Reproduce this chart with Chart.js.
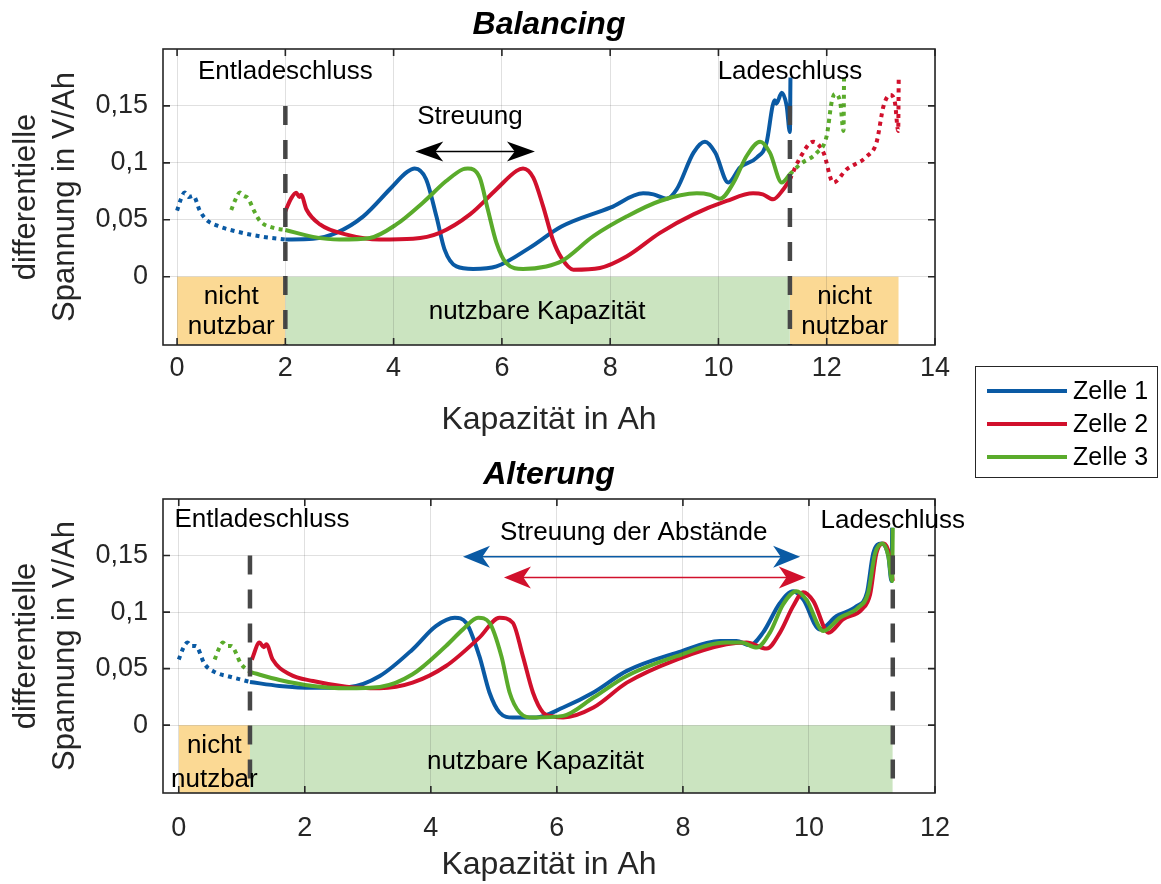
<!DOCTYPE html>
<html lang="de">
<head>
<meta charset="utf-8">
<title>Differentielle Spannung – Balancing und Alterung</title>
<script src="https://cdn.jsdelivr.net/npm/chart.js@4.4.1/dist/chart.umd.min.js"></script>
<style>
  html, body { margin: 0; padding: 0; background: #fff; }
  #wrap { position: relative; width: 1161px; height: 884px; overflow: hidden; }
  #wrap canvas { position: absolute; left: 0; }
  #chart-bal { top: 0; }
  #chart-alt { top: 440px; }
</style>
</head>
<body>
<div id="wrap">
  <canvas id="chart-bal" width="1161" height="484"></canvas>
  <canvas id="chart-alt" width="1161" height="444"></canvas>
</div>
<script>
"use strict";

// Achsen
const xTicksBal = [0, 2, 4, 6, 8, 10, 12, 14];
const xTicksAlt = [0, 2, 4, 6, 8, 10, 12];
const yTicks = [0, 0.05, 0.1, 0.15];
const Y_MIN = -0.06;
const Y_MAX = 0.2;

const zellenNamen = ["Zelle 1", "Zelle 2", "Zelle 3"];

// --- Balancing: [Kapazität in Ah, dU/dQ in V/Ah] ---
const balZelle1Vor = [[0.0, 0.058], [0.07, 0.068], [0.14, 0.074], [0.22, 0.070], [0.3, 0.071],
  [0.42, 0.058], [0.54, 0.050], [0.73, 0.045], [1.1, 0.0397], [1.59, 0.035], [2.0, 0.0327]];
const balZelle1 = [[2.0, 0.0327], [2.51, 0.0333], [2.94, 0.0385], [3.44, 0.053], [3.93, 0.0768],
  [4.25, 0.092], [4.39, 0.095], [4.6, 0.0856], [4.79, 0.053], [4.94, 0.024], [5.16, 0.009],
  [5.47, 0.0068], [5.9, 0.009], [6.51, 0.0253], [7.1, 0.044], [8.0, 0.0606], [8.61, 0.0732],
  [8.8, 0.0723], [9.04, 0.0685], [9.23, 0.0768], [9.54, 0.109], [9.75, 0.1185], [9.94, 0.109],
  [10.18, 0.0827], [10.4, 0.096], [10.71, 0.1047], [10.89, 0.118], [11.0, 0.150], [11.04, 0.155],
  [11.07, 0.152], [11.17, 0.1615], [11.26, 0.150], [11.32, 0.127], [11.33, 0.175]];

const balZelle2 = [[2.0, 0.0576], [2.11, 0.069], [2.2, 0.0738], [2.26, 0.070], [2.29, 0.072],
  [2.39, 0.059], [2.64, 0.0459], [3.13, 0.037], [3.74, 0.0327], [4.36, 0.0333], [4.85, 0.0385],
  [5.41, 0.0547], [5.9, 0.0768], [6.27, 0.093], [6.39, 0.095], [6.58, 0.087], [6.76, 0.062],
  [6.94, 0.0327], [7.1, 0.0165], [7.32, 0.0062], [7.81, 0.0077], [8.31, 0.018], [8.92, 0.0385],
  [9.54, 0.0547], [10.15, 0.0665], [10.64, 0.0732], [10.82, 0.0723], [11.01, 0.068],
  [11.2, 0.0768], [11.32, 0.0856]];
const balZelle2Nach = [[11.32, 0.0856], [11.51, 0.1047], [11.75, 0.1185], [11.94, 0.109],
  [12.12, 0.0827], [12.37, 0.0944], [12.74, 0.1056], [12.92, 0.118], [13.05, 0.150],
  [13.17, 0.1597], [13.26, 0.153], [13.32, 0.128], [13.33, 0.175]];

const balZelle3Vor = [[1.0, 0.0585], [1.08, 0.068], [1.16, 0.074], [1.23, 0.071], [1.31, 0.069],
  [1.42, 0.058], [1.53, 0.049], [1.77, 0.043], [2.0, 0.041]];
const balZelle3 = [[2.0, 0.041], [2.51, 0.035], [3.0, 0.0327], [3.56, 0.034], [4.05, 0.0459],
  [4.54, 0.065], [4.97, 0.084], [5.28, 0.0944], [5.37, 0.095], [5.59, 0.087], [5.74, 0.059],
  [5.9, 0.0297], [6.08, 0.012], [6.39, 0.0068], [6.82, 0.009], [7.1, 0.0135], [7.69, 0.0356],
  [8.31, 0.053], [8.92, 0.0665], [9.6, 0.0732], [9.84, 0.072], [10.03, 0.0685], [10.28, 0.0827],
  [10.52, 0.106], [10.77, 0.1185], [10.95, 0.109], [11.17, 0.0827], [11.32, 0.09]];
const balZelle3Nach = [[11.32, 0.09], [11.51, 0.0988], [11.82, 0.109], [12.0, 0.1238],
  [12.09, 0.153], [12.15, 0.1606], [12.25, 0.153], [12.31, 0.128], [12.32, 0.175]];

const balGrenzen = [2.0, 11.32];            // Entladeschluss, Ladeschluss
const balNichtNutzbar = [[0, 2.0], [11.32, 13.33]];

// --- Alterung ---
const altZelle1Vor = [[0.0, 0.058], [0.07, 0.068], [0.14, 0.073], [0.2, 0.070], [0.27, 0.070],
  [0.41, 0.054], [0.59, 0.0465], [0.8, 0.043], [1.13, 0.0382]];
const altZelle1 = [[1.13, 0.0382], [1.6, 0.0347], [2.13, 0.033], [2.71, 0.0338], [3.19, 0.0435],
  [3.71, 0.067], [4.08, 0.0876], [4.38, 0.095], [4.56, 0.0906], [4.77, 0.061], [4.93, 0.0289],
  [5.09, 0.0112], [5.3, 0.0068], [5.67, 0.0068], [6.1, 0.0156], [6.58, 0.0289], [7.11, 0.048],
  [7.9, 0.064], [8.59, 0.0744], [8.85, 0.0744], [9.06, 0.0706], [9.27, 0.0818], [9.54, 0.108],
  [9.75, 0.1185], [9.91, 0.111], [10.17, 0.0847], [10.44, 0.0965], [10.76, 0.1053],
  [10.92, 0.117], [11.02, 0.152], [11.15, 0.1606], [11.26, 0.1494], [11.31, 0.1274], [11.32, 0.1745]];

const altZelle2 = [[1.16, 0.058], [1.28, 0.073], [1.35, 0.069], [1.39, 0.0715], [1.49, 0.058],
  [1.76, 0.045], [2.13, 0.039], [2.66, 0.034], [3.19, 0.0327], [3.71, 0.0376], [4.24, 0.0523],
  [4.77, 0.0774], [5.09, 0.095], [5.3, 0.0906], [5.46, 0.061], [5.62, 0.0289], [5.78, 0.0112],
  [5.94, 0.0077], [6.1, 0.0068], [6.58, 0.0156], [7.11, 0.0376], [7.9, 0.058], [8.69, 0.0715],
  [9.01, 0.073], [9.33, 0.0677], [9.54, 0.0818], [9.75, 0.1053], [9.91, 0.1176], [10.07, 0.1097],
  [10.31, 0.0818], [10.54, 0.0936], [10.84, 0.1024], [10.97, 0.1156], [11.07, 0.152],
  [11.19, 0.1606], [11.28, 0.1494], [11.33, 0.1274]];

const altZelle3Vor = [[0.57, 0.058], [0.64, 0.068], [0.7, 0.073], [0.77, 0.070], [0.83, 0.070],
  [0.99, 0.054], [1.13, 0.047]];
const altZelle3 = [[1.13, 0.047], [1.6, 0.04], [2.13, 0.0347], [2.66, 0.0327], [3.19, 0.0338],
  [3.71, 0.045], [4.24, 0.07], [4.51, 0.0847], [4.75, 0.095], [4.93, 0.0906], [5.12, 0.061],
  [5.25, 0.0289], [5.41, 0.0112], [5.62, 0.0068], [6.1, 0.0082], [6.58, 0.0244], [7.11, 0.0435],
  [7.9, 0.061], [8.69, 0.073], [8.93, 0.073], [9.17, 0.0686], [9.38, 0.0818], [9.59, 0.1068],
  [9.8, 0.1185], [9.96, 0.111], [10.23, 0.0832], [10.49, 0.095], [10.78, 0.1039], [10.94, 0.117],
  [11.05, 0.152], [11.17, 0.1606], [11.26, 0.1494], [11.32, 0.1274], [11.33, 0.1745]];

const altGrenzen = [1.13, 11.33];
const altNichtNutzbar = [[0, 1.13]];

// Farben / Stil
const FONT = '"Liberation Sans", Arial, Helvetica, sans-serif';
const AXIS_COLOR = "#262626";
const GRID_COLOR = "rgba(38, 38, 38, 0.14)";
const BLAU = "#0a5aa4";
const ROT = "#d1102c";
const GRUEN = "#5aab2b";
const ORANGE_BAND = "#fbd994";
const GRUEN_BAND = "#cbe4c0";
const MARKER_COLOR = "#474747";

function curve(data, color, dotted, order, label) {
  return {
    label: label || "",
    data,
    order,
    borderColor: color,
    backgroundColor: color,
    borderWidth: 4,
    borderDash: dotted ? [4, 4.5] : [],
    borderCapStyle: "butt",
    borderJoinStyle: "round",
    pointRadius: 0,
    cubicInterpolationMode: "monotone",
    fill: false
  };
}

// Fläche von y = 0 bis zur unteren Achsengrenze
function band(range, color) {
  return {
    data: [[range[0], 0], [range[1], 0]],
    order: 20,
    fill: "start",
    backgroundColor: color,
    borderWidth: 0,
    pointRadius: 0
  };
}

function marker(xv) {
  return {
    data: [[xv, 0.15], [xv, Y_MIN]],
    order: -1,
    borderColor: MARKER_COLOR,
    borderWidth: 4.5,
    borderDash: [19, 15],
    borderCapStyle: "butt",
    pointRadius: 0,
    fill: false
  };
}

function buildScales(xMin, xMax, xTicks, xAxisHeight, tickPad, titlePad) {
  return {
    x: {
      type: "linear",
      min: xMin,
      max: xMax,
      afterBuildTicks: (s) => { s.ticks = xTicks.map((v) => ({ value: v })); },
      afterFit: (s) => { s.height = xAxisHeight; },
      grid: { color: GRID_COLOR, lineWidth: 1, drawTicks: false, z: 1 },
      border: { display: false },
      ticks: {
        color: AXIS_COLOR, padding: tickPad, maxRotation: 0, autoSkip: false,
        font: { family: FONT, size: 27 }
      },
      title: {
        display: true, text: "Kapazität in Ah", color: AXIS_COLOR,
        font: { family: FONT, size: 32, lineHeight: 1.2 },
        padding: { top: 0, bottom: titlePad }
      }
    },
    y: {
      type: "linear",
      min: Y_MIN,
      max: Y_MAX,
      afterBuildTicks: (s) => { s.ticks = yTicks.map((v) => ({ value: v })); },
      afterFit: (s) => { s.width = 163; },
      grid: { color: GRID_COLOR, lineWidth: 1, drawTicks: false, z: 1 },
      border: { display: false },
      ticks: {
        color: AXIS_COLOR, padding: 15,
        font: { family: FONT, size: 27 },
        callback: (v) => String(v).replace(".", ",")
      },
      title: {
        display: true, text: ["differentielle", "Spannung in V/Ah"], color: AXIS_COLOR,
        font: { family: FONT, size: 31, lineHeight: 1.26 },
        padding: { top: 7, bottom: 0 }
      }
    }
  };
}

function drawArrow(ctx, x1, x2, y, color, lw, len, half) {
  ctx.strokeStyle = color;
  ctx.fillStyle = color;
  ctx.lineWidth = lw;
  ctx.setLineDash([]);
  ctx.beginPath();
  ctx.moveTo(x1 + len * 0.6, y);
  ctx.lineTo(x2 - len * 0.6, y);
  ctx.stroke();
  [[x1, 1], [x2, -1]].forEach(([tip, dir]) => {
    ctx.beginPath();
    ctx.moveTo(tip, y);
    ctx.lineTo(tip + dir * len, y - half);
    ctx.lineTo(tip + dir * len * 0.72, y);
    ctx.lineTo(tip + dir * len, y + half);
    ctx.closePath();
    ctx.fill();
  });
}

// Rahmen, Ticks nach innen, Titel, Beschriftungen, Pfeile, Legende
const decorPlugin = {
  id: "decor",
  afterDraw(chart, args, opts) {
    const { ctx, chartArea: a } = chart;
    const sx = chart.scales.x;
    const sy = chart.scales.y;
    ctx.save();

    ctx.strokeStyle = AXIS_COLOR;
    ctx.lineWidth = 1.6;
    ctx.setLineDash([]);
    ctx.strokeRect(a.left, a.top, a.right - a.left, a.bottom - a.top);
    ctx.beginPath();
    sx.ticks.forEach((t) => {
      const px = sx.getPixelForValue(t.value);
      ctx.moveTo(px, a.bottom); ctx.lineTo(px, a.bottom - 7);
      ctx.moveTo(px, a.top); ctx.lineTo(px, a.top + 7);
    });
    sy.ticks.forEach((t) => {
      const py = sy.getPixelForValue(t.value);
      ctx.moveTo(a.left, py); ctx.lineTo(a.left + 7, py);
      ctx.moveTo(a.right, py); ctx.lineTo(a.right - 7, py);
    });
    ctx.stroke();

    ctx.fillStyle = "#000";
    ctx.textAlign = "center";
    ctx.textBaseline = "middle";
    ctx.font = "italic bold 32px " + FONT;
    ctx.fillText(opts.title, (a.left + a.right) / 2, a.top - 24);

    ctx.font = "26px " + FONT;
    (opts.texts || []).forEach((t) => {
      ctx.fillText(t.text, sx.getPixelForValue(t.x), sy.getPixelForValue(t.y));
    });

    (opts.arrows || []).forEach((ar) => {
      drawArrow(ctx, sx.getPixelForValue(ar.x1), sx.getPixelForValue(ar.x2),
        sy.getPixelForValue(ar.y), ar.color, ar.lw, ar.len, ar.half);
    });

    if (opts.legend) {
      const L = opts.legend;
      ctx.fillStyle = "#fff";
      ctx.fillRect(L.x, L.y, L.w, L.h);
      ctx.strokeStyle = "#262626";
      ctx.lineWidth = 1;
      ctx.strokeRect(L.x + 0.5, L.y + 0.5, L.w, L.h);
      ctx.font = "25px " + FONT;
      ctx.textAlign = "left";
      L.items.forEach((it, i) => {
        const yy = L.y + 25 + i * 33;
        ctx.strokeStyle = it.color;
        ctx.lineWidth = 4;
        ctx.beginPath();
        ctx.moveTo(L.x + 12, yy);
        ctx.lineTo(L.x + 92, yy);
        ctx.stroke();
        ctx.fillStyle = "#000";
        ctx.fillText(it.label, L.x + 98, yy + 1);
      });
    }
    ctx.restore();
  }
};

const baseOptions = {
  responsive: false,
  animation: false,
  events: [],
  plugins: { legend: { display: false }, tooltip: { enabled: false } }
};

// Balancing
new Chart(document.getElementById("chart-bal"), {
  type: "line",
  data: {
    datasets: [
      marker(balGrenzen[0]),
      marker(balGrenzen[1]),
      curve(balZelle3, GRUEN, false, 0, zellenNamen[2]),
      curve(balZelle3Vor, GRUEN, true, 0),
      curve(balZelle3Nach, GRUEN, true, 0),
      curve(balZelle2, ROT, false, 1, zellenNamen[1]),
      curve(balZelle2Nach, ROT, true, 1),
      curve(balZelle1, BLAU, false, 2, zellenNamen[0]),
      curve(balZelle1Vor, BLAU, true, 2),
      band(balNichtNutzbar[0], ORANGE_BAND),
      band(balNichtNutzbar[1], ORANGE_BAND),
      band(balGrenzen, GRUEN_BAND)
    ]
  },
  options: Object.assign({}, baseOptions, {
    layout: { padding: { left: 0, top: 49, right: 226, bottom: 34 } },
    scales: buildScales(-0.26, 14, xTicksBal, 105, 7, 11),
    plugins: Object.assign({}, baseOptions.plugins, {
      decor: {
        title: "Balancing",
        texts: [
          { text: "Entladeschluss", x: balGrenzen[0], y: 0.18 },
          { text: "Ladeschluss", x: balGrenzen[1], y: 0.18 },
          { text: "Streuung", x: 5.41, y: 0.14 },
          { text: "nicht", x: 1.0, y: -0.0177 },
          { text: "nutzbar", x: 1.0, y: -0.0441 },
          { text: "nicht", x: 12.33, y: -0.0177 },
          { text: "nutzbar", x: 12.33, y: -0.0441 },
          { text: "nutzbare Kapazität", x: 6.65, y: -0.031 }
        ],
        arrows: [{ x1: 4.4, x2: 6.61, y: 0.110, color: "#000", lw: 1.5, len: 28, half: 10 }],
        legend: {
          x: 975, y: 366, w: 182, h: 111,
          items: [
            { label: zellenNamen[0], color: BLAU },
            { label: zellenNamen[1], color: ROT },
            { label: zellenNamen[2], color: GRUEN }
          ]
        }
      }
    })
  }),
  plugins: [decorPlugin]
});

// Alterung
new Chart(document.getElementById("chart-alt"), {
  type: "line",
  data: {
    datasets: [
      marker(altGrenzen[0]),
      marker(altGrenzen[1]),
      curve(altZelle3, GRUEN, false, 0, zellenNamen[2]),
      curve(altZelle3Vor, GRUEN, true, 0),
      curve(altZelle2, ROT, false, 1, zellenNamen[1]),
      curve(altZelle1, BLAU, false, 2, zellenNamen[0]),
      curve(altZelle1Vor, BLAU, true, 2),
      band(altNichtNutzbar[0], ORANGE_BAND),
      band(altGrenzen, GRUEN_BAND)
    ]
  },
  options: Object.assign({}, baseOptions, {
    layout: { padding: { left: 0, top: 59, right: 226, bottom: 0 } },
    scales: buildScales(-0.25, 12, xTicksAlt, 91, 19, 0),
    plugins: Object.assign({}, baseOptions.plugins, {
      decor: {
        title: "Alterung",
        texts: [
          { text: "Entladeschluss", x: 1.32, y: 0.182 },
          { text: "Ladeschluss", x: altGrenzen[1], y: 0.181 },
          { text: "Streuung der Abstände", x: 7.22, y: 0.170 },
          { text: "nicht", x: 0.565, y: -0.0185 },
          { text: "nutzbar", x: 0.565, y: -0.048 },
          { text: "nutzbare Kapazität", x: 5.66, y: -0.032 }
        ],
        arrows: [
          { x1: 4.51, x2: 9.86, y: 0.149, color: BLAU, lw: 1.5, len: 27, half: 11 },
          { x1: 5.16, x2: 9.95, y: 0.1306, color: ROT, lw: 1.5, len: 27, half: 11 }
        ]
      }
    })
  }),
  plugins: [decorPlugin]
});
</script>
</body>
</html>
